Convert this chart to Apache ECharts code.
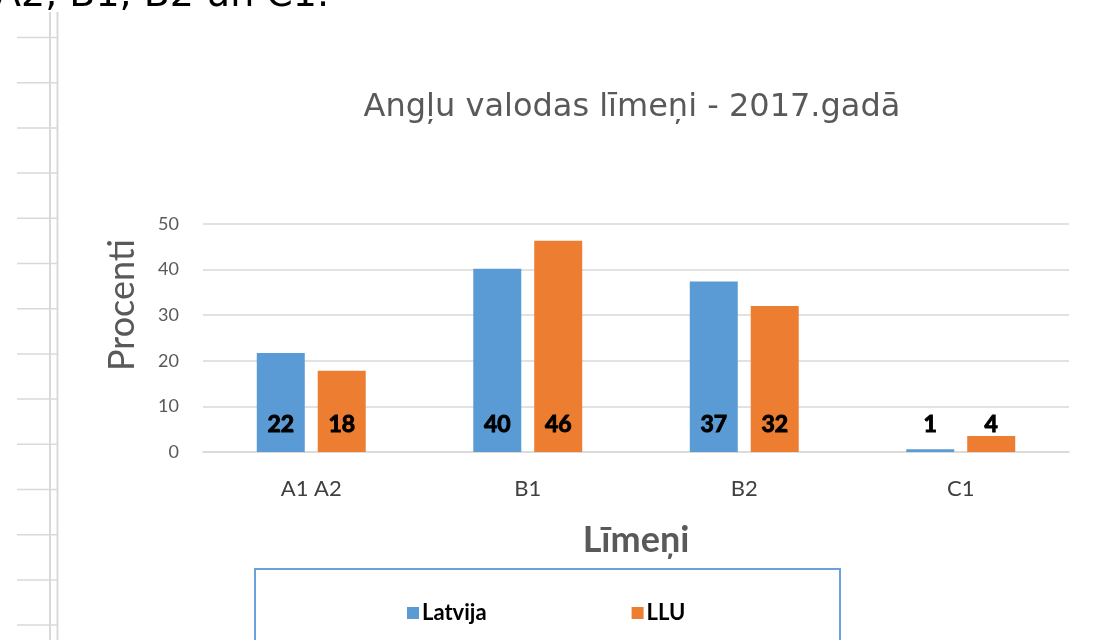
<!DOCTYPE html>
<html>
<head>
<meta charset="utf-8">
<script src="https://cdn.jsdelivr.net/npm/echarts@6/dist/echarts.min.js"></script>
<style>
html,body{margin:0;padding:0;background:#fff;}
#chart{width:1093px;height:640px;}
</style>
</head>
<body>
<div id="chart"></div>
<script>
var categories = ['A1 A2', 'B1', 'B2', 'C1'];
var seriesNames = ['Latvija', 'LLU'];
var latvija = [21.7, 40.2, 37.4, 0.6];
var llu = [17.8, 46.3, 32.0, 3.5];
var yTicks = [0, 10, 20, 30, 40, 50];

var chart = echarts.init(document.getElementById('chart'));

var labelStyle = {
  show: true,
  position: 'insideBottom',
  distance: 16,
  fontFamily: 'Lato',
  fontWeight: 'bold',
  fontSize: 23,
  color: '#000',
  textBorderColor: '#000',
  textBorderWidth: 1,
  formatter: function (p) { return Math.round(p.value); }
};

// decorative spreadsheet margin lines on the left
var deco = [];
deco.push({type:'line', shape:{x1:50,y1:12,x2:50,y2:640}, style:{stroke:'#d9d9d9', lineWidth:2}, silent:true});
deco.push({type:'line', shape:{x1:57.5,y1:12,x2:57.5,y2:640}, style:{stroke:'#d9d9d9', lineWidth:2}, silent:true});
for (var k = 0; k < 14; k++) {
  var yy = 37.5 + 45.2 * k;
  deco.push({type:'line', shape:{x1:17,y1:yy,x2:58,y2:yy}, style:{stroke:'#d9d9d9', lineWidth:1.5}, silent:true});
}
// cut-off document text at the top
deco.push({type:'text', left:-5, top:-23, style:{text:'A2, B1, B2 un C1.', font:'38px "DejaVu Sans"', fill:'#000'}, silent:true});
// y-axis title
deco.push({type:'text', x:122, y:305, rotation:Math.PI/2,
  style:{text:'Procenti', font:'36px Lato', fill:'#595959', textAlign:'center', textVerticalAlign:'middle'}, silent:true});
// legend box
deco.push({type:'rect', shape:{x:255,y:569,width:585,height:100}, style:{fill:'none', stroke:'#6d9fdc', lineWidth:2}, silent:true});

var option = {
  backgroundColor: '#fff',
  animation: false,
  title: {
    text: 'Angļu valodas līmeņi - 2017.gadā',
    left: 627,
    textAlign: 'center',
    top: 87,
    textStyle: {fontFamily: 'DejaVu Sans', fontWeight: 'normal', fontSize: 32, color: '#595959'}
  },
  legend: {
    data: seriesNames,
    left: 402,
    top: 597,
    itemWidth: 12,
    itemHeight: 12,
    itemGap: 145,
    icon: 'rect',
    textStyle: {fontFamily: 'Lato', fontWeight: 'bold', fontSize: 22, color: '#000', padding:[0,0,0,-2]}
  },
  grid: {left: 203, right: 24, top: 224, bottom: 188},
  xAxis: {
    type: 'category',
    data: categories,
    name: 'Līmeņi',
    nameLocation: 'middle',
    nameGap: 70,
    nameTextStyle: {fontFamily: 'Lato', fontWeight: 'bold', fontSize: 36, color: '#595959'},
    axisLine: {show: true, lineStyle: {color: '#d9d9d9', width: 1.5}},
    axisTick: {show: false},
    axisLabel: {fontFamily: 'Lato', fontSize: 22, color: '#404040', margin: 26}
  },
  yAxis: {
    type: 'value',
    min: yTicks[0],
    max: yTicks[yTicks.length - 1],
    interval: 10,
    axisLine: {show: false},
    axisTick: {show: false},
    splitLine: {lineStyle: {color: '#d9d9d9', width: 1.5}},
    axisLabel: {fontFamily: 'Lato', fontSize: 18, color: '#595959', margin: 24}
  },
  series: [
    {name: seriesNames[0], type: 'bar', data: latvija, itemStyle: {color: '#5b9bd5'},
     barWidth: 48, barGap: '27%', label: labelStyle},
    {name: seriesNames[1], type: 'bar', data: llu, itemStyle: {color: '#ed7d31'},
     barWidth: 48, barGap: '27%', label: labelStyle}
  ],
  graphic: deco
};
chart.setOption(option);
</script>
</body>
</html>
